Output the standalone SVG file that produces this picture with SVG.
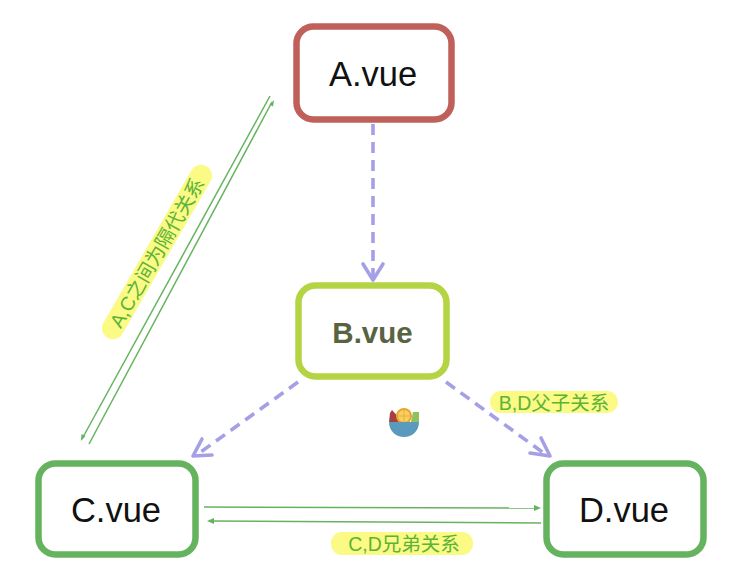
<svg xmlns="http://www.w3.org/2000/svg" width="740" height="583" viewBox="0 0 740 583">
<style>
.n{fill:#fff;stroke-width:6.5}
.t{font-family:"Liberation Sans",Arial,sans-serif;font-size:34.500px;text-anchor:middle;fill:#111}
.d{fill:none;stroke:#a5a0e6;stroke-width:3.600;stroke-dasharray:11 7}
.h{fill:none;stroke:#a5a0e6;stroke-width:3.600;stroke-linecap:round;stroke-linejoin:round}
.g{fill:none;stroke:#66b35f;stroke-width:1.500}
.a{fill:#66b35f}
.p{fill:#fafa85}
.l{font-family:"Liberation Sans","Noto Sans CJK SC",sans-serif;font-size:19.500px;fill:#5cb338;text-anchor:middle}
</style>
<rect width="740" height="583" fill="#fff"/>
<g id="connectors">
<path class="d" d="M373 124V278"/>
<path class="h" d="M363 264L373 280L383 264"/>
<path class="d" d="M298 382L198 454"/>
<path class="h" d="M202 439L193 456L212 455"/>
<path class="d" d="M446 382L545 454"/>
<path class="h" d="M541 438L550 456L530 453"/>
<path class="g" d="M270 96L82 439"/>
<path class="a" d="M81 441L81.500 434L85.500 436Z"/>
<path class="g" d="M272 102L89 444"/>
<path class="a" d="M274 100L273 106.500L269.500 104.500Z"/>
<path class="g" d="M204 507L536 508"/>
<path class="a" d="M541 508L534 505V511Z"/>
<path class="g" d="M541 523L212 521"/>
<path class="a" d="M207 521L214 518V524Z"/>
</g>
<g id="node-a"><rect class="n" x="296.500" y="26.500" width="155" height="93" rx="17" stroke="#c0605a"/><text class="t" x="373" y="86">A.vue</text></g>
<g id="node-b"><rect class="n" x="298.500" y="285.500" width="148" height="91" rx="17" stroke="#b5d444"/><text class="t" x="372.500" y="343" style="font-size:29.500px;font-weight:bold;fill:#5a6340">B.vue</text></g>
<g id="node-c"><rect class="n" x="38.500" y="463.500" width="157" height="91" rx="17" stroke="#66b35f"/><text class="t" x="116" y="522">C.vue</text></g>
<g id="node-d"><rect class="n" x="546.500" y="463.500" width="157" height="91" rx="17" stroke="#66b35f"/><text class="t" x="624" y="522">D.vue</text></g>
<g id="label-ac"><rect class="p" x="-99" y="-11" width="198" height="22" rx="11" transform="translate(157 252) rotate(-60)"/><text class="l" transform="translate(163 256) rotate(-60)">A,C之间为隔代关系</text></g>
<g id="label-bd"><rect class="p" x="490" y="391" width="128" height="22" rx="11"/><text class="l" x="554" y="410">B,D父子关系</text></g>
<g id="label-cd"><rect class="p" x="331" y="532" width="142" height="23" rx="11"/><text class="l" x="404" y="551">C,D兄弟关系</text></g>
<g id="icon">
<path d="M389 422L390 413L392 410L403 422Z" fill="#a5423f"/>
<path d="M411 422L413 412H419V422Z" fill="#8fc25f"/>
<circle cx="404" cy="416" r="8" fill="#e8a530"/>
<circle cx="404" cy="416" r="6" fill="#f8cf60"/>
<path d="M398 416H410M404 410V422" stroke="#e8a530" stroke-width="0.800"/>
<path d="M389 422H419C419 431 412 437 404 437C396 437 389 431 389 422Z" fill="#5a9bbd"/>
</g>
</svg>
